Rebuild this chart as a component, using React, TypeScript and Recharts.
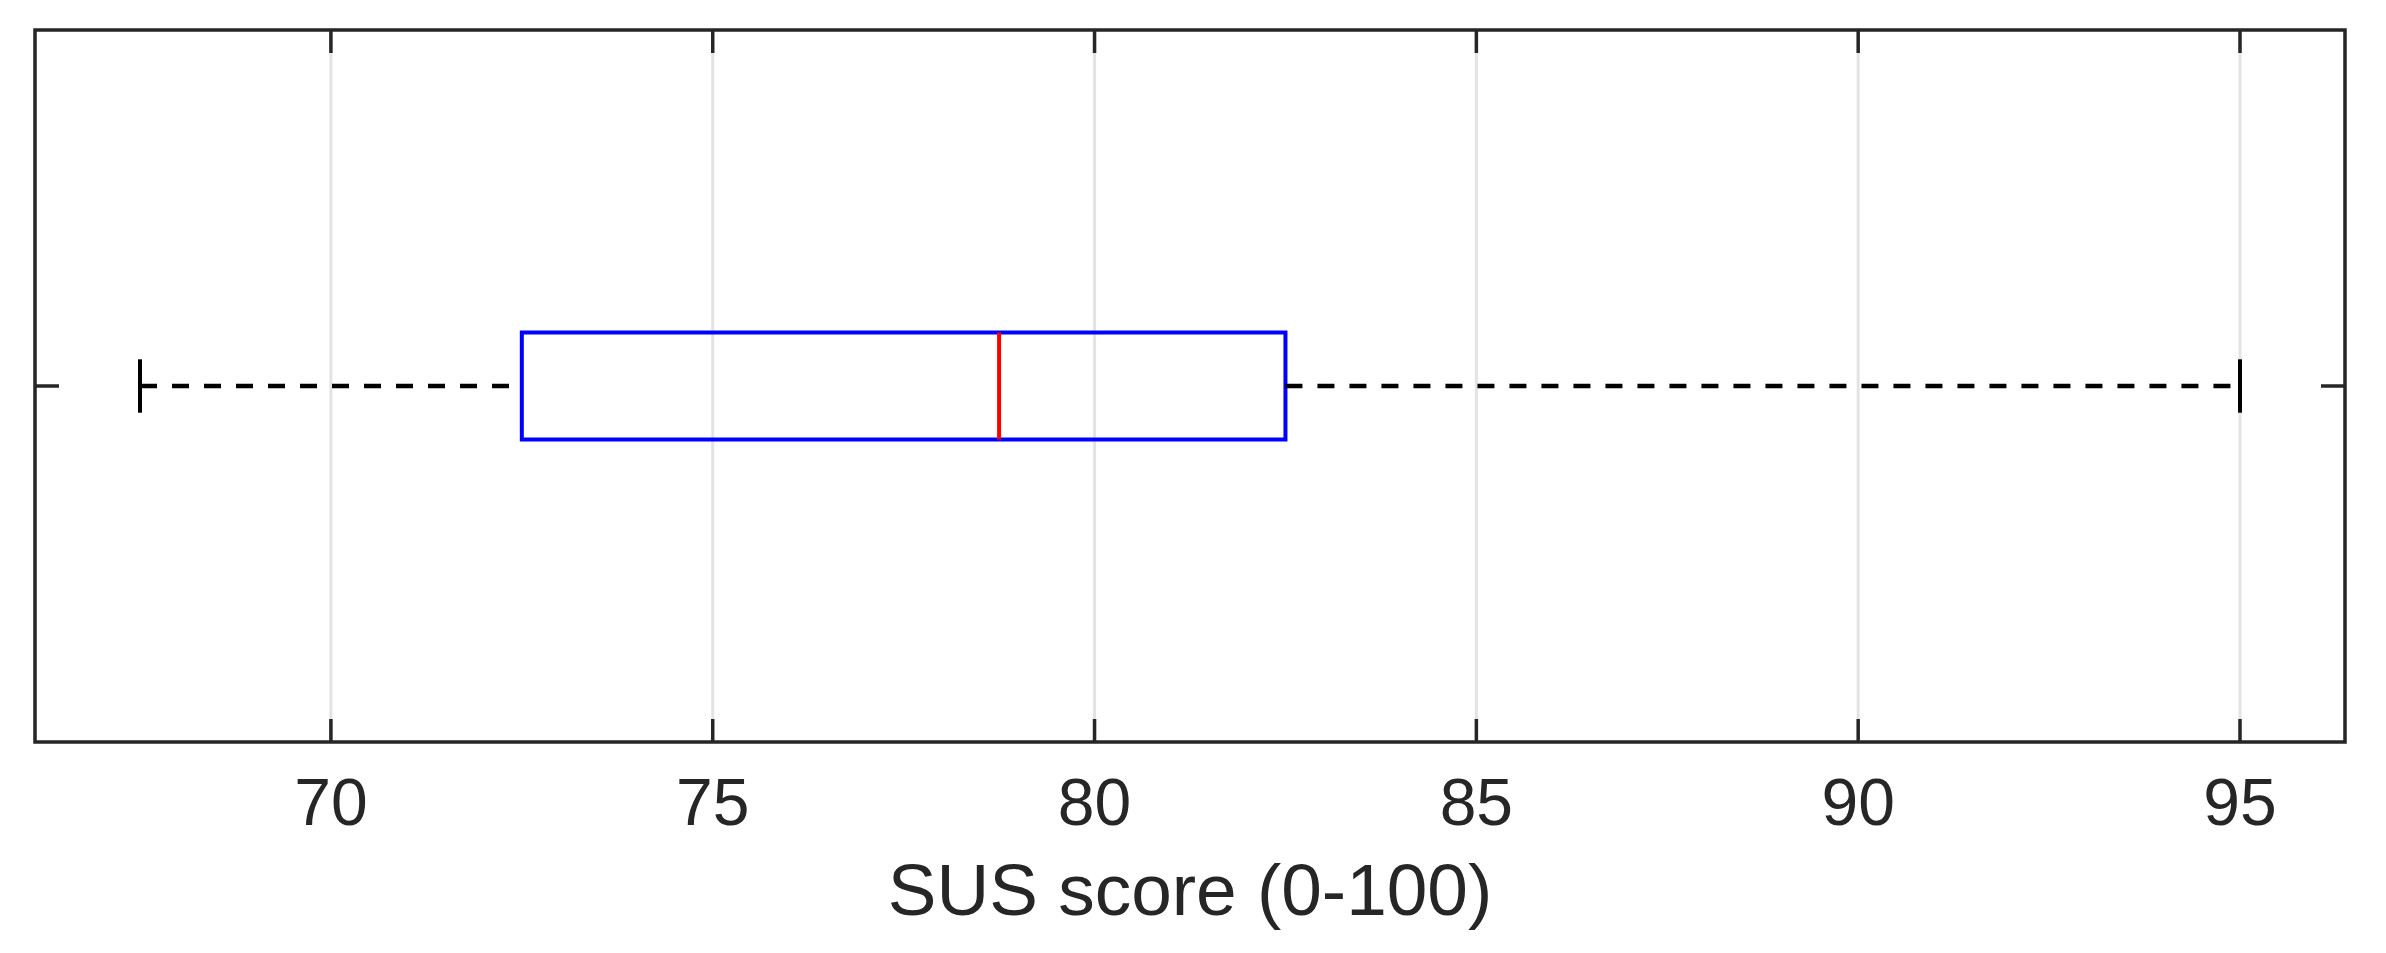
import React from 'react';
import { ComposedChart, XAxis, YAxis, CartesianGrid, ReferenceArea, ReferenceLine, Scatter } from 'recharts';

// SUS score summary (one group)
const groups = [1];
const whiskerLow = [67.5];
const q1 = [72.5];
const median = [78.75];
const q3 = [82.5];
const whiskerHigh = [95];
const xTicks = [70, 75, 80, 85, 90, 95];
const xDomain: [number, number] = [66.125, 96.375];
const yDomain: [number, number] = [0.5, 1.5];
const axisTitle = 'SUS score (0-100)';

const FONT = '"Liberation Sans", Arial, Helvetica, sans-serif';
const AXIS_COLOR = '#262626';
const BOX_HALF = 0.075;
const CAP_HALF = 0.0375;

const rows = groups.map((g, i) => ({
  group: g,
  low: whiskerLow[i],
  q1: q1[i],
  median: median[i],
  q3: q3[i],
  high: whiskerHigh[i],
}));

const XTick = (props: any) => {
  const { x, y, payload } = props;
  return (
    <text x={x} y={y + 83} textAnchor="middle" fontSize={66} fontFamily={FONT} fill={AXIS_COLOR}>
      {payload.value}
    </text>
  );
};

// tick mark only, no label
const NoLabel = () => <g />;

const XTitle = (props: any) => {
  const vb = props.viewBox || {};
  return (
    <text
      x={vb.x + vb.width / 2}
      y={vb.y + 173}
      textAnchor="middle"
      fontSize={73}
      fontFamily={FONT}
      fill={AXIS_COLOR}
    >
      {axisTitle}
    </text>
  );
};

export default function App() {
  return (
    <div style={{ position: 'absolute', left: 0, top: 0, width: 2386, height: 953, background: '#fff' }}>
      <ComposedChart
        width={2386}
        height={953}
        data={rows}
        margin={{ top: 20, right: 31, bottom: 11, left: 25 }}
      >
        <CartesianGrid horizontal={false} stroke="#e3e3e3" strokeWidth={3} />
        <XAxis
          xAxisId={0}
          type="number"
          dataKey="median"
          domain={xDomain}
          ticks={xTicks}
          allowDataOverflow
          axisLine={false}
          tickSize={-23}
          tickMargin={23}
          tickLine={{ stroke: AXIS_COLOR, strokeWidth: 3.5 }}
          tick={<XTick />}
          height={200}
          label={{ content: <XTitle /> }}
        />
        <XAxis
          xAxisId="top"
          orientation="top"
          type="number"
          dataKey="median"
          domain={xDomain}
          ticks={xTicks}
          allowDataOverflow
          axisLine={false}
          tickSize={-23}
          tickMargin={0}
          tickLine={{ stroke: AXIS_COLOR, strokeWidth: 3.5 }}
          tick={<NoLabel />}
          height={10}
        />
        <YAxis
          yAxisId={0}
          type="number"
          dataKey="group"
          domain={yDomain}
          ticks={groups}
          allowDataOverflow
          axisLine={false}
          tickSize={-24}
          tickMargin={0}
          tickLine={{ stroke: AXIS_COLOR, strokeWidth: 3.5 }}
          tick={<NoLabel />}
          width={10}
        />
        <YAxis
          yAxisId="right"
          orientation="right"
          type="number"
          dataKey="group"
          domain={yDomain}
          ticks={groups}
          allowDataOverflow
          axisLine={false}
          tickSize={-24}
          tickMargin={0}
          tickLine={{ stroke: AXIS_COLOR, strokeWidth: 3.5 }}
          tick={<NoLabel />}
          width={10}
        />

        {/* anchors the data on the axes; the box is drawn with reference marks */}
        <Scatter xAxisId={0} yAxisId={0} dataKey="group" data={rows} shape={() => <g />} isAnimationActive={false} />
        <Scatter xAxisId="top" yAxisId="right" dataKey="group" data={rows} shape={() => <g />} isAnimationActive={false} />

        {rows.map((r) => (
          <React.Fragment key={r.group}>
            {/* lower whisker + cap */}
            <ReferenceLine
              segment={[{ x: r.low, y: r.group }, { x: r.q1, y: r.group }]}
              stroke="#000"
              strokeWidth={4.5}
              strokeDasharray="17 15"
            />
            <ReferenceLine
              segment={[{ x: r.low, y: r.group - CAP_HALF }, { x: r.low, y: r.group + CAP_HALF }]}
              stroke="#000"
              strokeWidth={4}
            />
            {/* upper whisker + cap */}
            <ReferenceLine
              segment={[{ x: r.q3, y: r.group }, { x: r.high, y: r.group }]}
              stroke="#000"
              strokeWidth={4.5}
              strokeDasharray="17 15"
            />
            <ReferenceLine
              segment={[{ x: r.high, y: r.group - CAP_HALF }, { x: r.high, y: r.group + CAP_HALF }]}
              stroke="#000"
              strokeWidth={4}
            />
            {/* box */}
            <ReferenceArea
              x1={r.q1}
              x2={r.q3}
              y1={r.group - BOX_HALF}
              y2={r.group + BOX_HALF}
              fill="none"
              fillOpacity={0}
              stroke="#0000ff"
              strokeWidth={4}
            />
            {/* median */}
            <ReferenceLine
              segment={[{ x: r.median, y: r.group - BOX_HALF }, { x: r.median, y: r.group + BOX_HALF }]}
              stroke="#ff0000"
              strokeWidth={4}
            />
          </React.Fragment>
        ))}

        {/* axes frame */}
        <ReferenceArea
          x1={xDomain[0]}
          x2={xDomain[1]}
          y1={yDomain[0]}
          y2={yDomain[1]}
          fill="none"
          fillOpacity={0}
          stroke={AXIS_COLOR}
          strokeWidth={3.5}
        />
      </ComposedChart>
    </div>
  );
}
